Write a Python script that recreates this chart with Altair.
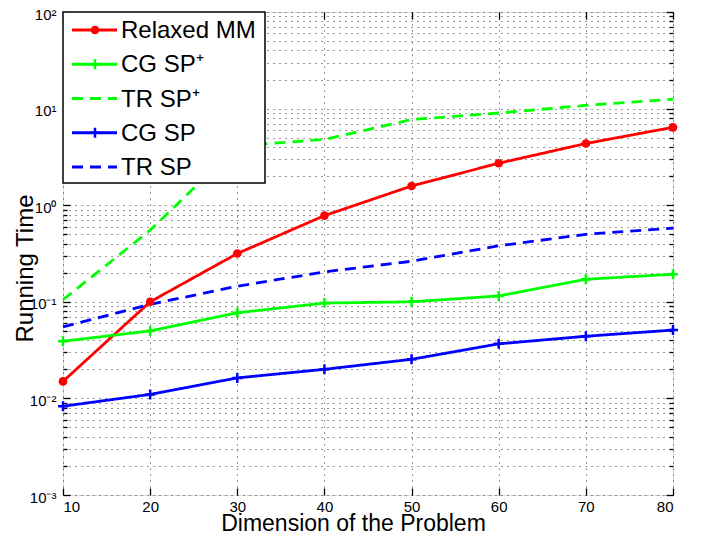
import altair as alt
import pandas as pd

# ---- data ----
dims = [10, 20, 30, 40, 50, 60, 70, 80]
relaxed_mm = [0.015, 0.10, 0.316, 0.78, 1.58, 2.72, 4.35, 6.4]
cg_sp_plus = [0.039, 0.05, 0.077, 0.097, 0.10, 0.115, 0.171, 0.193]
tr_sp_plus = [0.105, 0.55, 4.1, 4.8, 7.7, 9.0, 10.8, 12.5]
cg_sp = [0.0083, 0.011, 0.0163, 0.020, 0.0254, 0.0367, 0.044, 0.051]
tr_sp = [0.055, 0.094, 0.145, 0.204, 0.263, 0.38, 0.50, 0.58]

names = ["Relaxed MM", "CG SP⁺", "TR SP⁺", "CG SP", "TR SP"]
colors = ["#ff0000", "#00ff00", "#00ff00", "#0000ff", "#0000ff"]
dashes = [[1, 0], [1, 0], [11, 7], [1, 0], [11, 7]]
series_values = [relaxed_mm, cg_sp_plus, tr_sp_plus, cg_sp, tr_sp]

y_ticks_major = [0.001, 0.01, 0.1, 1, 10, 100]
y_ticks_all = [k * 10.0 ** d for d in range(-3, 2) for k in range(1, 10)] + [100]
y_ticks_minor = [v for v in y_ticks_all if v not in y_ticks_major]

df = pd.concat(
    [pd.DataFrame({"series": n, "dim": dims, "time": v}) for n, v in zip(names, series_values)],
    ignore_index=True,
)
legend_df = pd.DataFrame({"series": names})

FONT = "Liberation Sans"

xscale = alt.Scale(domain=[10, 80], nice=False, zero=False)
yscale = alt.Scale(type="log", domain=[0.001, 100], nice=False)
cscale = alt.Scale(domain=names, range=colors)
dscale = alt.Scale(domain=names, range=dashes)

sup = {-3: "⁻³", -2: "⁻²", -1: "⁻¹", 0: "⁰", 1: "¹", 2: "²"}
e = "round(log(datum.value)/LN10)"
expr = "''"
for k, s in sup.items():
    expr = f"{e} == {k} ? '10{s}' : ({expr})"
expr = f"abs(log(datum.value)/LN10 - {e}) > 0.001 ? '' : ({expr})"

grid_kw = dict(grid=True, gridDash=[1, 5], gridColor="#333333", gridWidth=1)

x_main = alt.X(
    "dim:Q", scale=xscale,
    axis=alt.Axis(values=dims, ticks=False, domain=False, labelPadding=4, labelFontSize=15,
                  labelFont=FONT, labelColor="black", title="Dimension of the Problem",
                  titleFont=FONT, titleFontSize=23, titleFontWeight="normal", titleColor="black",
                  titleX=290, titleY=35, titleBaseline="alphabetic", **grid_kw),
)
y_main = alt.Y(
    "time:Q", scale=yscale,
    axis=alt.Axis(values=y_ticks_all, ticks=False, domain=False, labelPadding=7, labelFontSize=15,
                  labelFont=FONT, labelColor="black", labelExpr=expr, labelBaseline="middle",
                  labelOffset=2,
                  title="Running Time", titleFont=FONT, titleFontSize=24,
                  titleFontWeight="normal", titleColor="black", titleX=-31, titleY=256,
                  titleBaseline="alphabetic", **grid_kw),
)

color = alt.Color("series:N", scale=cscale, legend=None)
dash = alt.StrokeDash("series:N", scale=dscale, legend=None)

lines = alt.Chart(df).mark_line(strokeWidth=2.8).encode(
    x=x_main, y=y_main, color=color, strokeDash=dash, order="dim:Q"
)

x_noaxis = alt.X("dim:Q", scale=xscale, axis=None)
y_noaxis = alt.Y("time:Q", scale=yscale, axis=None)

PLUS = "M-1,0H1M0,-1V1"
circles = alt.Chart(df).transform_filter(alt.datum.series == "Relaxed MM").mark_circle(
    size=75, opacity=1
).encode(x=x_noaxis, y=y_noaxis, color=color)
pluses = alt.Chart(df).transform_filter(
    (alt.datum.series == "CG SP⁺") | (alt.datum.series == "CG SP")
).mark_point(shape=PLUS, size=100, strokeWidth=2.5, filled=False, opacity=1).encode(
    x=x_noaxis, y=y_noaxis, color=color
)


def tick_axis(orient, values, length):
    return alt.Axis(orient=orient, values=values, offset=-length, tickSize=length, tickWidth=1.3,
                    tickColor="black", labels=False, domain=False, grid=False, title=None)


def tick_layer(xaxis, yaxis):
    return alt.Chart(df).mark_point(opacity=0).encode(
        x=alt.X("dim:Q", scale=xscale, axis=xaxis),
        y=alt.Y("time:Q", scale=yscale, axis=yaxis),
    )


t1 = tick_layer(tick_axis("bottom", dims, 7), tick_axis("left", y_ticks_major, 7))
t2 = tick_layer(tick_axis("top", dims, 7), tick_axis("right", y_ticks_major, 7))
t3 = tick_layer(None, tick_axis("left", y_ticks_minor, 4))
t4 = tick_layer(None, tick_axis("right", y_ticks_minor, 4))

main = alt.layer(lines, circles, pluses, t1, t2, t3, t4).resolve_axis(x="independent", y="independent")

# ---- legend ----
ly = alt.Y("series:N", scale=alt.Scale(type="point", domain=names, range=[18, 155], padding=0), axis=None)
box = alt.Chart(pd.DataFrame({"k": [0]})).mark_rect(
    fill="white", stroke="black", strokeWidth=1.5
).encode(x=alt.value(0), x2=alt.value(202), y=alt.value(0), y2=alt.value(171))
lrules = alt.Chart(legend_df).mark_rule(strokeWidth=2.8).encode(
    x=alt.value(9), x2=alt.value(54), y=ly, color=color, strokeDash=dash
)
lcircles = alt.Chart(legend_df).transform_filter(alt.datum.series == "Relaxed MM").mark_circle(
    size=75, opacity=1
).encode(x=alt.value(32), y=ly, color=color)
lpluses = alt.Chart(legend_df).transform_filter(
    (alt.datum.series == "CG SP⁺") | (alt.datum.series == "CG SP")
).mark_point(shape=PLUS, size=100, strokeWidth=2.5, filled=False, opacity=1).encode(
    x=alt.value(32), y=ly, color=color
)
ltext = alt.Chart(legend_df).mark_text(
    align="left", baseline="middle", fontSize=24, font=FONT, color="black", dy=1
).encode(x=alt.value(58), y=ly, text="series:N")

legend = alt.layer(box, lrules, lcircles, lpluses, ltext)

chart = alt.layer(main, legend).resolve_scale(y="independent", x="independent").properties(
    width=610, height=483,
    autosize=alt.AutoSizeParams(type="none"),
    padding={"left": 55, "top": 4, "right": 12, "bottom": 36},
).configure_view(stroke="black", strokeWidth=1.5).configure(font=FONT)

chart.save("out.html", embed_options={"renderer": "svg", "actions": False})
